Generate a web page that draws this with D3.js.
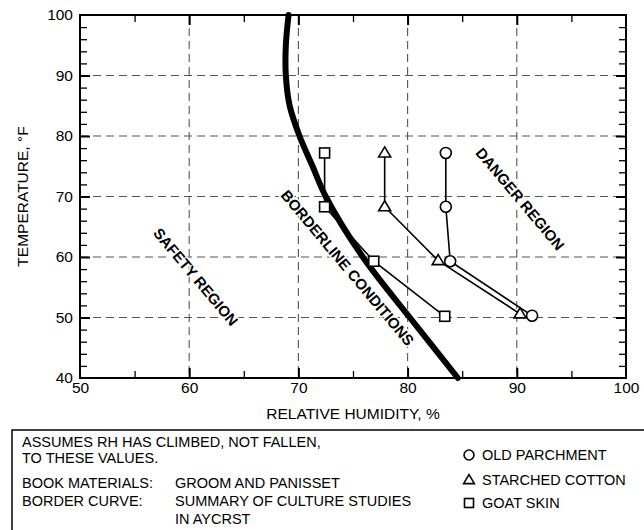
<!DOCTYPE html>
<html><head><meta charset="utf-8">
<script src="https://cdn.jsdelivr.net/npm/d3@7"></script>
<style>
body{margin:0;background:#fff;}
svg{display:block;}
text{font-family:"Liberation Sans",Arial,Helvetica,sans-serif;fill:#000;}
</style></head>
<body>
<svg id="chart" width="644" height="530"></svg>
<script>
// ---- data ----
const xTickValues = [50, 60, 70, 80, 90, 100];
const yTickValues = [40, 50, 60, 70, 80, 90, 100];
const xMinorTicks = [55, 65, 75, 85, 95];
const yMinorTicks = [42,44,46,48,52,54,56,58,62,64,66,68,72,74,76,78,82,84,86,88,92,94,96,98];

const borderRH   = [69.1, 68.85, 68.85, 69.2, 70.1, 71.3, 72.5, 75.9, 80.2, 84.6];
const borderTemp = [100, 95, 90, 85, 80, 75, 70, 60, 50, 40];

const parchmentRH   = [83.5, 83.5, 83.9, 91.4];
const parchmentTemp = [77.2, 68.3, 59.3, 50.3];
const cottonRH      = [77.9, 77.9, 82.8, 90.3];
const cottonTemp    = [77.2, 68.3, 59.4, 50.6];
const goatRH        = [72.4, 72.4, 76.9, 83.4];
const goatTemp      = [77.2, 68.3, 59.3, 50.2];

const regionLabels = ["SAFETY REGION", "BORDERLINE CONDITIONS", "DANGER REGION"];
const regionRH     = [60.6, 74.5, 90.3];
const regionTemp   = [56.7, 58.2, 69.6];

const legendNames = ["OLD PARCHMENT", "STARCHED COTTON", "GOAT SKIN"];
const noteLines = [
  ["ASSUMES RH HAS CLIMBED, NOT FALLEN,", ""],
  ["TO THESE VALUES.", ""],
  ["BOOK MATERIALS:", "GROOM AND PANISSET"],
  ["BORDER CURVE:", "SUMMARY OF CULTURE STUDIES"],
  ["", "IN AYCRST"]
];

// ---- layout ----
const svg = d3.select("#chart");
const L = 80, R = 626, T = 15, B = 378;
const x = d3.scaleLinear().domain([50, 100]).range([L, R]);
const y = d3.scaleLinear().domain([40, 100]).range([B, T]);
const FS = "15.5px";

// grid
const grid = svg.append("g").attr("stroke", "#555").attr("stroke-width", 1.1).attr("stroke-dasharray", "8,5");
grid.selectAll("line.v").data(xTickValues.slice(1, -1)).enter().append("line")
  .attr("x1", d => x(d)).attr("x2", d => x(d)).attr("y1", T).attr("y2", B);
grid.selectAll("line.h").data(yTickValues.slice(1, -1)).enter().append("line")
  .attr("x1", L).attr("x2", R).attr("y1", d => y(d)).attr("y2", d => y(d));

// axes ticks (inward)
function tickAxis(axisFn, scale, vals, size, width, tr) {
  const g = svg.append("g").attr("transform", tr)
    .call(axisFn(scale).tickValues(vals).tickSize(size).tickFormat(""));
  g.select(".domain").remove();
  g.selectAll("line").attr("stroke", "#000").attr("stroke-width", width);
  return g;
}
tickAxis(d3.axisTop, x, xMinorTicks, 7, 1.3, `translate(0,${B})`);
tickAxis(d3.axisTop, x, xTickValues.slice(1,-1), 10, 2, `translate(0,${B})`);
tickAxis(d3.axisBottom, x, xMinorTicks, 7, 1.3, `translate(0,${T})`);
tickAxis(d3.axisBottom, x, xTickValues.slice(1,-1), 10, 2, `translate(0,${T})`);
tickAxis(d3.axisRight, y, yMinorTicks, 7, 1.3, `translate(${L},0)`);
tickAxis(d3.axisRight, y, yTickValues.slice(1,-1), 10, 2, `translate(${L},0)`);
tickAxis(d3.axisLeft, y, yMinorTicks, 7, 1.3, `translate(${R},0)`);
tickAxis(d3.axisLeft, y, yTickValues.slice(1,-1), 10, 2, `translate(${R},0)`);

// tick labels
const xl = svg.append("g").attr("transform", `translate(0,${B})`)
  .call(d3.axisBottom(x).tickValues(xTickValues).tickSize(0).tickPadding(4).tickFormat(d3.format("d")));
xl.select(".domain").remove();
xl.selectAll("text").style("font-size", FS).style("font-family", "Liberation Sans, Arial, sans-serif").attr("fill", "#000");
const yl = svg.append("g").attr("transform", `translate(${L},0)`)
  .call(d3.axisLeft(y).tickValues(yTickValues).tickSize(0).tickPadding(7).tickFormat(d3.format("d")));
yl.select(".domain").remove();
yl.selectAll("text").style("font-size", FS).style("font-family", "Liberation Sans, Arial, sans-serif").attr("fill", "#000");

// frame
svg.append("rect").attr("x", L).attr("y", T).attr("width", R - L).attr("height", B - T)
  .attr("fill", "none").attr("stroke", "#000").attr("stroke-width", 2);

// axis titles
svg.append("text").attr("x", (L + R) / 2).attr("y", 419).attr("text-anchor", "middle")
  .style("font-size", FS).text("RELATIVE HUMIDITY, %");
svg.append("text").attr("transform", `translate(28,${(T + B) / 2}) rotate(-90)`).attr("text-anchor", "middle")
  .style("font-size", FS).text("TEMPERATURE, °F");

// region labels
regionLabels.forEach((t, i) => {
  svg.append("text")
    .attr("transform", `translate(${x(regionRH[i])},${y(regionTemp[i])}) rotate(50)`)
    .attr("text-anchor", "middle").attr("dy", "0.35em")
    .style("font-size", "15px").style("font-weight", "bold")
    .attr("stroke", "#fff").attr("stroke-width", 3).attr("paint-order", "stroke")
    .text(t);
});

// border curve
const curvePts = borderRH.map((d, i) => [d, borderTemp[i]]);
svg.append("path").datum(curvePts)
  .attr("d", d3.line().x(d => x(d[0])).y(d => y(d[1])).curve(d3.curveCatmullRom.alpha(0.5)))
  .attr("fill", "none").attr("stroke", "#000").attr("stroke-width", 6).attr("stroke-linecap", "round");

// series
const series = [
  {rh: parchmentRH, t: parchmentTemp, shape: "circle"},
  {rh: cottonRH, t: cottonTemp, shape: "triangle"},
  {rh: goatRH, t: goatTemp, shape: "square"}
];
function marker(g, shape, cx, cy, s) {
  if (shape === "circle") {
    g.append("circle").attr("cx", cx).attr("cy", cy).attr("r", 5.5*s);
  } else if (shape === "triangle") {
    const h = 10*s, w = 12*s;
    g.append("path").attr("d", `M${cx},${cy - h*0.6}L${cx + w/2},${cy + h*0.4}L${cx - w/2},${cy + h*0.4}Z`);
  } else {
    const a = 10*s;
    g.append("rect").attr("x", cx - a/2).attr("y", cy - a/2).attr("width", a).attr("height", a);
  }
}
series.forEach(s => {
  const pts = s.rh.map((d, i) => [d, s.t[i]]);
  svg.append("path").datum(pts).attr("d", d3.line().x(d => x(d[0])).y(d => y(d[1])))
    .attr("fill", "none").attr("stroke", "#000").attr("stroke-width", 1.6);
  const g = svg.append("g").attr("fill", "#fff").attr("stroke", "#000").attr("stroke-width", 1.6);
  pts.forEach(p => marker(g, s.shape, x(p[0]), y(p[1]), 1));
});

// notes box
svg.append("rect").attr("x", 12).attr("y", 430).attr("width", 700).attr("height", 200)
  .attr("fill", "none").attr("stroke", "#000").attr("stroke-width", 1.5);
const noteY = [447, 463, 488, 506, 524];
noteLines.forEach((ln, i) => {
  if (ln[0]) svg.append("text").attr("x", 22).attr("y", noteY[i]).style("font-size", "14.5px").text(ln[0]);
  if (ln[1]) svg.append("text").attr("x", 175).attr("y", noteY[i]).style("font-size", "14.5px").text(ln[1]);
});
const legY = [455, 480, 503];
const shapes = ["circle", "triangle", "square"];
legendNames.forEach((n, i) => {
  const g = svg.append("g").attr("fill", "#fff").attr("stroke", "#000").attr("stroke-width", 1.6);
  marker(g, shapes[i], 469, legY[i], 0.9);
  svg.append("text").attr("x", 482).attr("y", legY[i]).attr("dy", "0.36em").style("font-size", "14.5px").text(n);
});
</script>
</body></html>
